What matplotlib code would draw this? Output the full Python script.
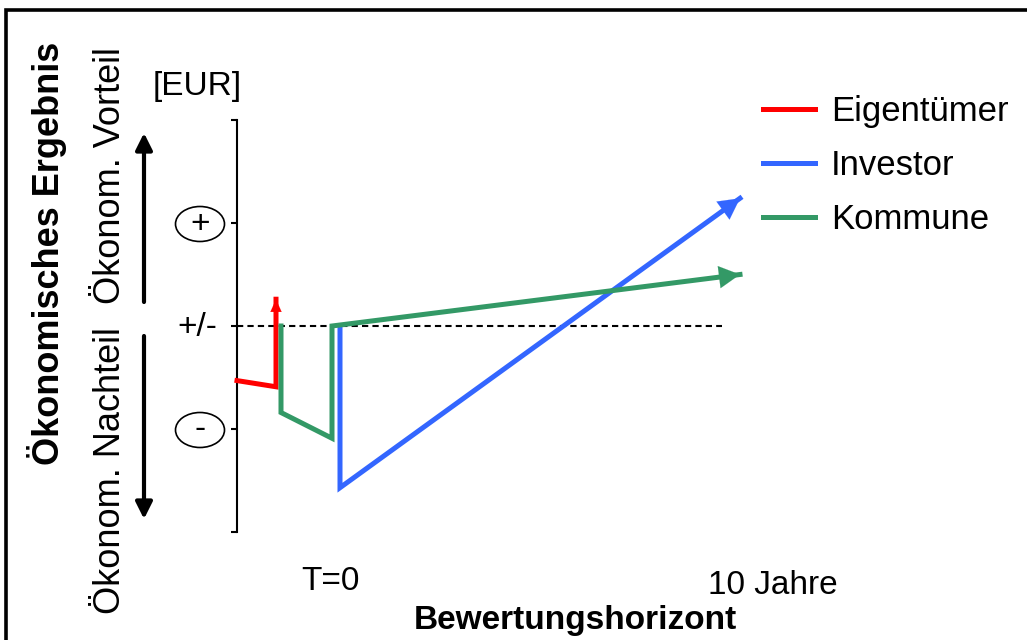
import matplotlib
matplotlib.use("Agg")
import matplotlib.pyplot as plt
from matplotlib.patches import Ellipse, Rectangle, FancyArrowPatch

plt.rcParams['font.family'] = ['Liberation Sans', 'DejaVu Sans']

# ---- data (years on x, relative economic result on y) ----
series_names = ["Eigentümer", "Investor", "Kommune"]
series_colors = ["#FF0000", "#3366FF", "#339966"]

eig_x = [-2.575, -1.6, -1.6]
eig_y = [-0.53, -0.59, 0.26]

inv_x = [0.0, 0.0, 10.0]
inv_y = [0.0, -1.57, 1.24]

kom_x = [-1.475, -1.475, -0.2, -0.2, 10.0]
kom_y = [0.0, -0.84, -1.09, 0.0, 0.50]

zero_line_x = [-2.575, 9.55]
y_ticks = [-2, -1, 0, 1, 2]

W, H = 1027, 640
fig = plt.figure(figsize=(W / 100, H / 100), dpi=100)

def fx(px):
    return px / W

def fy(py):
    return 1 - py / H

ax = fig.add_axes([fx(237), fy(532), fx(760) - fx(237), fy(120) - fy(532)])
ax.set_xlim(-2.575, 10.5)
ax.set_ylim(-2, 2)
for s in ["top", "right", "bottom"]:
    ax.spines[s].set_visible(False)
ax.spines["left"].set_linewidth(1.5)
ax.set_yticks(y_ticks)
ax.set_yticklabels([])
ax.set_xticks([])
ax.tick_params(axis="y", direction="out", length=4, width=1.5)

lw = 3.6
ax.plot(zero_line_x, [0, 0], color="black", lw=1.5, linestyle=(0, (3, 2)), zorder=1)

lines = []
for xs, ys, c, name in [(eig_x, eig_y, series_colors[0], series_names[0]),
                         (inv_x, inv_y, series_colors[1], series_names[1]),
                         (kom_x, kom_y, series_colors[2], series_names[2])]:
    ln, = ax.plot(xs, ys, color=c, lw=lw, solid_joinstyle="miter", label=name,
                  clip_on=False, zorder=3)
    lines.append(ln)

# arrow heads at the ends of the series
def head(xs, ys, c, hl, hw):
    x1, y1 = xs[-1], ys[-1]
    x0, y0 = xs[-2], ys[-2]
    ax.annotate("", xy=(x1, y1), xytext=(x1 - (x1 - x0) * 0.08, y1 - (y1 - y0) * 0.08),
                arrowprops=dict(arrowstyle=f"-|>,head_length={hl},head_width={hw}",
                                color=c, lw=0.1, shrinkA=0, shrinkB=0,
                                mutation_scale=20),
                annotation_clip=False, zorder=4)

head(eig_x, eig_y, series_colors[0], 0.45, 0.2)
head(inv_x, inv_y, series_colors[1], 0.75, 0.4)
head(kom_x, kom_y, series_colors[2], 0.75, 0.4)

leg = ax.legend(handles=lines, loc="upper left", bbox_to_anchor=(fx(732), fy(64)),
                bbox_transform=fig.transFigure, frameon=False, fontsize=25,
                handlelength=1.5, handletextpad=0.45, labelspacing=0.6)

# ---- annotation texts ----
fs = 24
fig.text(fx(197), fy(86), "[EUR]", fontsize=fs, ha="center", va="center")
fig.text(fx(197), fy(327), "+/-", fontsize=24, ha="center", va="center")
for cy, sym in [(224, "+"), (430, "-")]:
    e = Ellipse((fx(200), fy(cy)), fx(49), 35 / H, transform=fig.transFigure,
                fill=False, ec="black", lw=1.2)
    fig.add_artist(e)
    fig.text(fx(200), fy(cy), sym, fontsize=24, ha="center", va="center")

fig.text(fx(47), fy(253), "Ökonomisches Ergebnis", fontsize=26, fontweight="bold",
         rotation=90, ha="center", va="center")
fig.text(fx(110), fy(176), "Ökonom. Vorteil", fontsize=26, rotation=90,
         ha="center", va="center")
fig.text(fx(110), fy(471), "Ökonom. Nachteil", fontsize=26, rotation=90,
         ha="center", va="center")

fig.add_artist(FancyArrowPatch(
    (fx(144), fy(302)), (fx(144), fy(133)), transform=fig.transFigure,
    arrowstyle="-|>,head_length=0.5,head_width=0.25", mutation_scale=20,
    color="black", lw=3, shrinkA=0, shrinkB=0))
fig.add_artist(FancyArrowPatch(
    (fx(144), fy(336)), (fx(144), fy(519)), transform=fig.transFigure,
    arrowstyle="-|>,head_length=0.5,head_width=0.25", mutation_scale=20,
    color="black", lw=3, shrinkA=0, shrinkB=0))

fig.text(fx(330), fy(582), "T=0", fontsize=fs, ha="center", va="center")
fig.text(fx(773), fy(585), "10 Jahre", fontsize=fs, ha="center", va="center")
fig.text(fx(575), fy(621), "Bewertungshorizont", fontsize=fs, fontweight="bold",
         ha="center", va="center")

# outer frame (right and bottom edges fall outside the image)
fig.add_artist(Rectangle((fx(5.5), -0.1), 1.2, fy(9.5) + 0.1, transform=fig.transFigure,
                         fill=False, ec="black", lw=2.6))

fig.savefig("out.png", dpi=100)
